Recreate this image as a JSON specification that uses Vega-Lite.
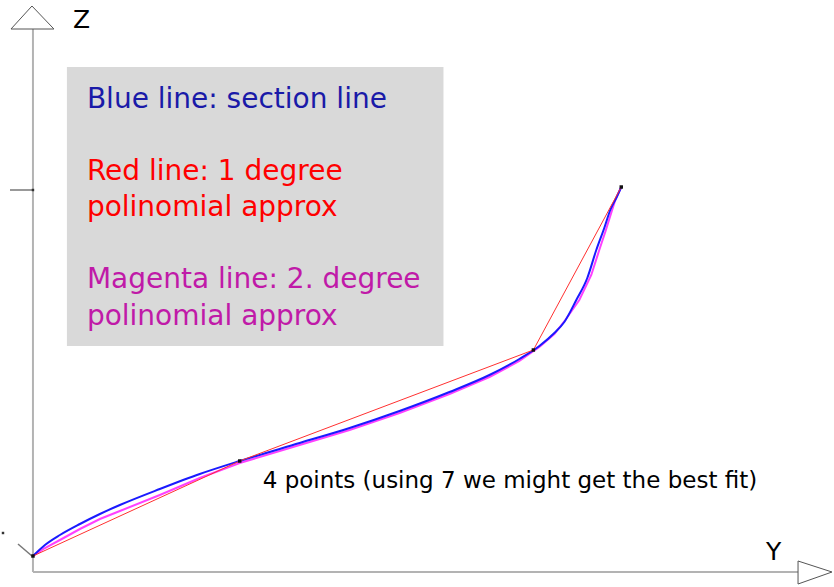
{
  "$schema": "https://vega.github.io/schema/vega-lite/v6.json",
  "autosize": {"type": "fit", "contains": "padding"},
  "width": 834,
  "height": 587,
  "padding": 0,
  "background": "white",
  "config": {"view": {"stroke": null}},
  "datasets": {
    "box": [{"u0": 34, "u1": 411, "v0": 226, "v1": 505}],
    "axes": [
      {"part": "z", "i": 0, "u": 0, "v": 0},
      {"part": "z", "i": 1, "u": 0, "v": 543},
      {"part": "y", "i": 0, "u": 0, "v": 0},
      {"part": "y", "i": 1, "u": 766, "v": 0}
    ],
    "arrows": [
      {"part": "z", "i": 0, "u": -22, "v": 543},
      {"part": "z", "i": 1, "u": -1, "v": 566},
      {"part": "z", "i": 2, "u": 21, "v": 543},
      {"part": "z", "i": 3, "u": -22, "v": 543},
      {"part": "y", "i": 0, "u": 766, "v": 11},
      {"part": "y", "i": 1, "u": 800, "v": 0},
      {"part": "y", "i": 2, "u": 766, "v": -12},
      {"part": "y", "i": 3, "u": 766, "v": 11}
    ],
    "marks": [
      {"part": "tick", "i": 0, "u": -23, "v": 382},
      {"part": "tick", "i": 1, "u": 0, "v": 382},
      {"part": "stub", "i": 0, "u": -15, "v": 28},
      {"part": "stub", "i": 1, "u": -1, "v": 16}
    ],
    "knots": [
      {"i": 0, "u": 0, "v": 16},
      {"i": 1, "u": 207, "v": 111},
      {"i": 2, "u": 501, "v": 222},
      {"i": 3, "u": 589, "v": 385}
    ],
    "section": [
      {"i": 0, "u": 0, "v": 16}, {"i": 1, "u": 12, "v": 27}, {"i": 2, "u": 27, "v": 37},
      {"i": 3, "u": 47, "v": 48}, {"i": 4, "u": 67, "v": 58}, {"i": 5, "u": 87, "v": 67},
      {"i": 6, "u": 127, "v": 83}, {"i": 7, "u": 167, "v": 98}, {"i": 8, "u": 207, "v": 111},
      {"i": 9, "u": 267, "v": 129}, {"i": 10, "u": 317, "v": 144}, {"i": 11, "u": 367, "v": 161},
      {"i": 12, "u": 417, "v": 180}, {"i": 13, "u": 457, "v": 197}, {"i": 14, "u": 487, "v": 213},
      {"i": 15, "u": 507, "v": 226}, {"i": 16, "u": 522, "v": 239}, {"i": 17, "u": 532, "v": 250},
      {"i": 18, "u": 544, "v": 272}, {"i": 19, "u": 555, "v": 294}, {"i": 20, "u": 564, "v": 322},
      {"i": 21, "u": 572, "v": 344}, {"i": 22, "u": 578, "v": 362}, {"i": 23, "u": 584, "v": 374},
      {"i": 24, "u": 589, "v": 385}
    ],
    "quadratic": [
      {"i": 0, "u": 0, "v": 16}, {"i": 1, "u": 12, "v": 24}, {"i": 2, "u": 27, "v": 32},
      {"i": 3, "u": 47, "v": 43}, {"i": 4, "u": 67, "v": 53}, {"i": 5, "u": 87, "v": 61},
      {"i": 6, "u": 127, "v": 77}, {"i": 7, "u": 167, "v": 94}, {"i": 8, "u": 207, "v": 109},
      {"i": 9, "u": 267, "v": 127}, {"i": 10, "u": 317, "v": 142}, {"i": 11, "u": 367, "v": 159},
      {"i": 12, "u": 417, "v": 178}, {"i": 13, "u": 457, "v": 195}, {"i": 14, "u": 487, "v": 211},
      {"i": 15, "u": 507, "v": 225}, {"i": 16, "u": 522, "v": 238}, {"i": 17, "u": 533, "v": 252},
      {"i": 18, "u": 547, "v": 272}, {"i": 19, "u": 559, "v": 297}, {"i": 20, "u": 567, "v": 322},
      {"i": 21, "u": 573, "v": 340}, {"i": 22, "u": 578, "v": 356}, {"i": 23, "u": 583, "v": 372},
      {"i": 24, "u": 589, "v": 385}
    ]
  },
  "layer": [
    {
      "data": {"name": "box"},
      "mark": {"type": "rect", "color": "#d9d9d9"},
      "encoding": {
        "x": {"field": "u0", "type": "quantitative", "scale": {"domain": [-33, 801], "nice": false, "zero": false}, "axis": null},
        "x2": {"field": "u1"},
        "y": {"field": "v0", "type": "quantitative", "scale": {"domain": [-15, 572], "nice": false, "zero": false}, "axis": null},
        "y2": {"field": "v1"}
      }
    },
    {
      "data": {"name": "axes"},
      "mark": {"type": "line", "color": "#b3b3b3", "strokeWidth": 2},
      "encoding": {
        "x": {"field": "u", "type": "quantitative"},
        "y": {"field": "v", "type": "quantitative"},
        "detail": {"field": "part"},
        "order": {"field": "i"}
      }
    },
    {
      "data": {"name": "arrows"},
      "mark": {"type": "line", "color": "#555555", "strokeWidth": 1},
      "encoding": {
        "x": {"field": "u", "type": "quantitative"},
        "y": {"field": "v", "type": "quantitative"},
        "detail": {"field": "part"},
        "order": {"field": "i"}
      }
    },
    {
      "data": {"name": "marks"},
      "mark": {"type": "line", "color": "#777777", "strokeWidth": 1.5},
      "encoding": {
        "x": {"field": "u", "type": "quantitative"},
        "y": {"field": "v", "type": "quantitative"},
        "detail": {"field": "part"},
        "order": {"field": "i"}
      }
    },
    {
      "data": {"name": "quadratic"},
      "mark": {"type": "line", "color": "#ff40ff", "strokeWidth": 2},
      "encoding": {
        "x": {"field": "u", "type": "quantitative"},
        "y": {"field": "v", "type": "quantitative"},
        "order": {"field": "i"}
      }
    },
    {
      "data": {"name": "section"},
      "mark": {"type": "line", "color": "#1a1aff", "strokeWidth": 2, "interpolate": "monotone"},
      "encoding": {
        "x": {"field": "u", "type": "quantitative"},
        "y": {"field": "v", "type": "quantitative"},
        "order": {"field": "i"}
      }
    },
    {
      "data": {"name": "knots"},
      "mark": {"type": "line", "color": "#ff3030", "strokeWidth": 1},
      "encoding": {
        "x": {"field": "u", "type": "quantitative"},
        "y": {"field": "v", "type": "quantitative"},
        "order": {"field": "i"}
      }
    },
    {
      "data": {"name": "knots"},
      "mark": {"type": "square", "color": "#111111", "size": 12, "opacity": 1},
      "encoding": {
        "x": {"field": "u", "type": "quantitative"},
        "y": {"field": "v", "type": "quantitative"}
      }
    },
    {
      "data": {"values": [{"u": 0, "v": 382}, {"u": -30, "v": 39}]},
      "mark": {"type": "square", "color": "#333333", "size": 6, "opacity": 1},
      "encoding": {
        "x": {"field": "u", "type": "quantitative"},
        "y": {"field": "v", "type": "quantitative"}
      }
    },
    {
      "data": {"values": [{"t": "Blue line: section line", "u": 54, "v": 464}]},
      "mark": {"type": "text", "align": "left", "baseline": "alphabetic", "font": "DejaVu Sans", "fontSize": 28, "color": "#1a1aa8"},
      "encoding": {
        "x": {"field": "u", "type": "quantitative"},
        "y": {"field": "v", "type": "quantitative"},
        "text": {"field": "t"}
      }
    },
    {
      "data": {"values": [{"t": "Red line: 1 degree", "u": 54, "v": 392}, {"t": "polinomial approx", "u": 54, "v": 356}]},
      "mark": {"type": "text", "align": "left", "baseline": "alphabetic", "font": "DejaVu Sans", "fontSize": 28, "color": "#ff0000"},
      "encoding": {
        "x": {"field": "u", "type": "quantitative"},
        "y": {"field": "v", "type": "quantitative"},
        "text": {"field": "t"}
      }
    },
    {
      "data": {"values": [{"t": "Magenta line: 2. degree", "u": 54, "v": 284}, {"t": "polinomial approx", "u": 54, "v": 247}]},
      "mark": {"type": "text", "align": "left", "baseline": "alphabetic", "font": "DejaVu Sans", "fontSize": 28, "color": "#c01aa8"},
      "encoding": {
        "x": {"field": "u", "type": "quantitative"},
        "y": {"field": "v", "type": "quantitative"},
        "text": {"field": "t"}
      }
    },
    {
      "data": {"values": [{"t": "4 points (using 7 we might get the best fit)", "u": 230, "v": 84}]},
      "mark": {"type": "text", "align": "left", "baseline": "alphabetic", "font": "DejaVu Sans", "fontSize": 23, "color": "#000000"},
      "encoding": {
        "x": {"field": "u", "type": "quantitative"},
        "y": {"field": "v", "type": "quantitative"},
        "text": {"field": "t"}
      }
    },
    {
      "data": {"values": [{"t": "Z", "u": 40, "v": 544}, {"t": "Y", "u": 734, "v": 12}]},
      "mark": {"type": "text", "align": "left", "baseline": "alphabetic", "font": "DejaVu Sans", "fontSize": 25, "color": "#000000"},
      "encoding": {
        "x": {"field": "u", "type": "quantitative"},
        "y": {"field": "v", "type": "quantitative"},
        "text": {"field": "t"}
      }
    }
  ]
}
